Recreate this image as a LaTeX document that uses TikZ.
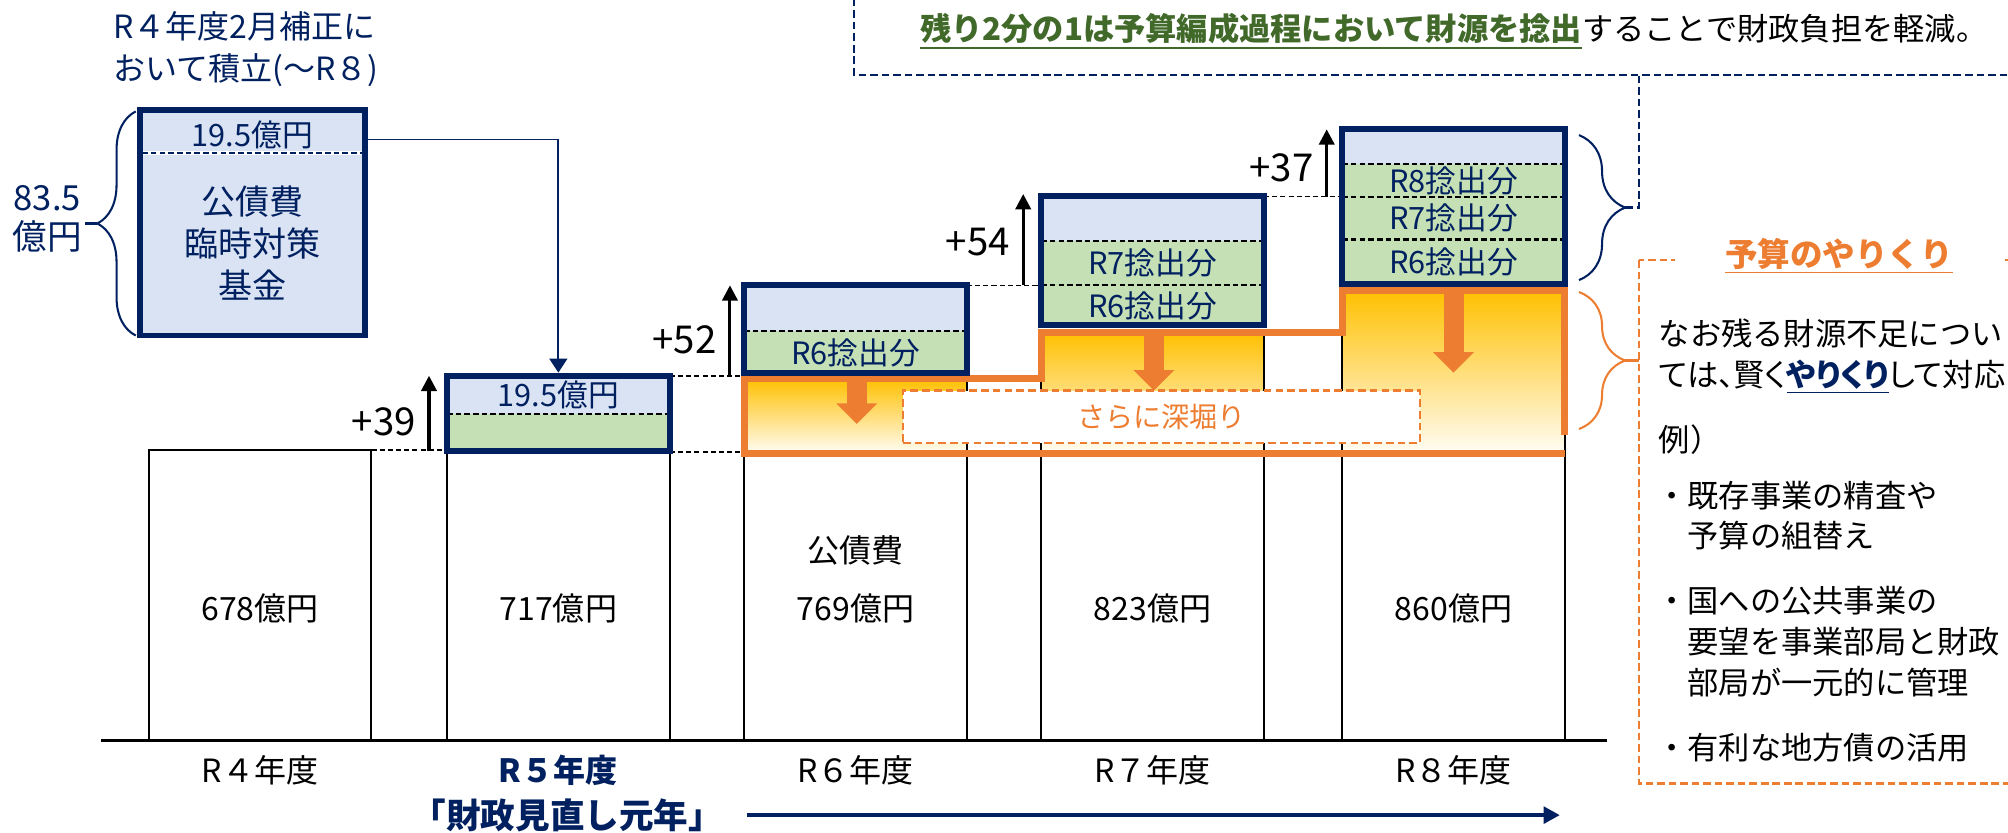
\documentclass[tikz,border=0pt]{standalone}
\usepackage{fontspec}
\setmainfont{Noto Sans CJK JP}
\usepackage{tikz}
\usetikzlibrary{arrows.meta, decorations.pathreplacing, positioning}
\usepackage{xcolor}
\definecolor{blu}{HTML}{002060}
\definecolor{azzurro}{HTML}{DAE3F3}
\definecolor{verde}{HTML}{C5E0B4}
\definecolor{verdescuro}{HTML}{41692A}
\definecolor{arancio}{HTML}{ED7D31}
\definecolor{giallo}{HTML}{FFC000}

\begin{document}
\begin{tikzpicture}[x = 0.5pt, y = -0.5pt,
    every node/.style = {inner sep = 1pt},
    barra/.style = {draw = black, line width = 0.75pt},
    scatola/.style = {draw = blu, line width = 2.3pt},
    riga/.style = {line width = 0.8pt, dash pattern = on 2.2pt off 1.2pt},
    guida/.style = {line width = 0.6pt, dash pattern = on 2pt off 1.2pt},
    salto/.style = {-{Triangle[width = 6pt, length = 6pt]}, line width = 1.2pt},
    giu/.style = {arancio, line width = 7.8pt, -{Triangle[width = 15.5pt, length = 8pt]}},
    piu/.style = {font = \fontsize{15}{17}\selectfont},
    cifra/.style = {font = \fontsize{12.5}{15}\selectfont},
    voce/.style = {text = blu, font = \fontsize{12}{15}\selectfont},
    testo/.style = {font = \fontsize{12.2}{15.7}\selectfont, anchor = west, align = left}]
    \useasboundingbox (0,0) rectangle (1568,649.7);
    % Parametri
    \pgfmathsetmacro{\asse}{578}
    \pgfmathsetmacro{\larg}{174}
    \pgfmathsetmacro{\xa}{116}
    \pgfmathsetmacro{\xb}{349}
    \pgfmathsetmacro{\xc}{581}
    \pgfmathsetmacro{\xd}{813}
    \pgfmathsetmacro{\xe}{1048}
    \pgfmathsetmacro{\fondo}{353.8}

    % Sfumature
    \shade[top color = giallo, bottom color = giallo!4] (\xc,295.7) rectangle ({\xc+\larg},\fondo);
    \shade[top color = giallo, bottom color = giallo!4] (\xd,259.3) rectangle ({\xd+\larg},\fondo);
    \shade[top color = giallo, bottom color = giallo!4] (\xe,227) rectangle ({\xe+\larg},\fondo);

    % Barre
    \draw[barra] (\xa,351.5) rectangle ({\xa+\larg},\asse);
    \draw[barra] (\xb,352) rectangle ({\xb+\larg},\asse);
    \draw[barra] (\xc,295.7) rectangle ({\xc+\larg},\asse);
    \draw[barra] (\xd,259.3) rectangle ({\xd+\larg},\asse);
    \draw[barra] (\xe,227) rectangle ({\xe+\larg},\asse);
    \node[cifra] (v678) at ({\xa+\larg/2},475) {678億円};
    \node[cifra] (v717) at ({\xb+\larg/2},475) {717億円};
    \node[cifra] (kosai) at ({\xc+\larg/2},430) {公債費};
    \node[cifra] (v769) at ({\xc+\larg/2},475) {769億円};
    \node[cifra] (v823) at ({\xd+\larg/2},475) {823億円};
    \node[cifra] (v860) at ({\xe+\larg/2},475) {860億円};

    % Linee guida
    \coordinate (q4) at ({\xa+\larg},351.5);
    \coordinate (q5) at (\xb,351.5);
    \coordinate (q5b) at ({\xb+\larg},353);
    \coordinate (q6b) at (\xc,353);
    \coordinate (q5t) at ({\xb+\larg},293.4);
    \coordinate (q6t) at (\xc,293.4);
    \coordinate (q6r) at ({\xc+\larg},222.8);
    \coordinate (q7l) at (\xd,222.8);
    \coordinate (q7r) at ({\xd+\larg},153.6);
    \coordinate (q8l) at (\xe,153.6);
    \draw[guida] (q4) -- (q5);
    \draw[guida] (q5b) -- (q6b);
    \draw[guida] (q5t) -- (q6t);
    \draw[guida] (q6r) -- (q7l);
    \draw[guida] (q7r) -- (q8l);

    % Contorno arancione
    \draw[arancio, line width = 2.7pt] ({\xe+\larg},340) -- ({\xe+\larg},227) -- (\xe,227) -- (\xe,259.3)
        -- (\xd,259.3) -- (\xd,295.7) -- (\xc,295.7) -- (\xc,\fondo) -- ({\xe+\larg},\fondo);
    \draw[giu] (669,297) -- (669,331);
    \draw[giu] (901,261) -- (901,305);
    \draw[giu] (1135,229) -- (1135,291);
    \node[draw = arancio, line width = 1pt, dash pattern = on 3pt off 1.6pt, fill = white,
        minimum width = 202pt, minimum height = 20.5pt, text = arancio,
        font = \fontsize{11}{14}\selectfont] (scavo) at (907,325.5) {さらに深堀り};

    % Scatole
    \fill[azzurro] (\xb,293.4) rectangle ({\xb+\larg},323);
    \fill[verde] (\xb,323) rectangle ({\xb+\larg},352);
    \draw[riga] (\xb,323) -- ({\xb+\larg},323);
    \draw[scatola] (\xb,293.4) rectangle ({\xb+\larg},352);
    \node[voce] (r5a) at ({\xb+\larg/2},308.5) {19.5億円};

    \fill[azzurro] (\xc,222.8) rectangle ({\xc+\larg},258.7);
    \fill[verde] (\xc,258.7) rectangle ({\xc+\larg},291);
    \draw[riga] (\xc,258.7) -- ({\xc+\larg},258.7);
    \draw[scatola] (\xc,222.8) rectangle ({\xc+\larg},291);
    \node[voce] (r6a) at ({\xc+\larg/2},275.5) {R6捻出分};

    \fill[azzurro] (\xd,153) rectangle ({\xd+\larg},188);
    \fill[verde] (\xd,188) rectangle ({\xd+\larg},254);
    \draw[riga] (\xd,188) -- ({\xd+\larg},188);
    \draw[riga] (\xd,222.6) -- ({\xd+\larg},222.6);
    \draw[scatola] (\xd,153) rectangle ({\xd+\larg},254);
    \node[voce] (r7a) at ({\xd+\larg/2},205.5) {R7捻出分};
    \node[voce] (r7b) at ({\xd+\larg/2},238.5) {R6捻出分};

    \fill[azzurro] (\xe,101) rectangle ({\xe+\larg},128.3);
    \fill[verde] (\xe,128.3) rectangle ({\xe+\larg},221.5);
    \draw[riga] (\xe,128.3) -- ({\xe+\larg},128.3);
    \draw[riga] (\xe,153.6) -- ({\xe+\larg},153.6);
    \draw[riga] (\xe,187) -- ({\xe+\larg},187);
    \draw[scatola] (\xe,101) rectangle ({\xe+\larg},221.5);
    \node[voce] (r8a) at ({\xe+\larg/2},141.5) {R8捻出分};
    \node[voce] (r8b) at ({\xe+\larg/2},170.5) {R7捻出分};
    \node[voce] (r8c) at ({\xe+\larg/2},204.5) {R6捻出分};

    % Incrementi
    \coordinate (p39) at (335,352);
    \coordinate (t39) at (335,293.4);
    \coordinate (m39) at (335,329);
    \coordinate (p52) at (570,293.4);
    \coordinate (t52) at (570,222.8);
    \coordinate (m52) at (570,265.6);
    \coordinate (p54) at (799,222.6);
    \coordinate (t54) at (799,151.5);
    \coordinate (m54) at (799,188.8);
    \coordinate (p37) at (1036,153.6);
    \coordinate (t37) at (1036,101);
    \coordinate (m37) at (1036,131);
    \draw[salto] (p39) -- (t39);
    \draw[salto] (p52) -- (t52);
    \draw[salto] (p54) -- (t54);
    \draw[salto] (p37) -- (t37);
    \node[piu, left = 4pt of m39] (n39) {+39};
    \node[piu, left = 4pt of m52] (n52) {+52};
    \node[piu, left = 4pt of m54] (n54) {+54};
    \node[piu, left = 4pt of m37] (n37) {+37};

    % Fondo
    \fill[azzurro] (109,86) rectangle (285,262);
    \draw[white, line width = 1.5pt] (111,119.5) -- (283,119.5);
    \draw[blu, riga] (111,119.5) -- (283,119.5);
    \draw[scatola] (109,86) rectangle (285,262);
    \node[voce] (f195) at (197,105) {19.5億円};
    \node[text = blu, align = center, font = \fontsize{13.3}{16.3}\selectfont] (fondo) at (197,190) {公債費\\臨時対策\\基金};
    \node[text = blu, align = center, font = \fontsize{13.5}{15.5}\selectfont] (tot) at (37,171) {83.5\\億円};
    \node[text = blu, anchor = west, align = left, font = \fontsize{12.5}{16.5}\selectfont] (titolo) at (86,38.5) {R４年度2月補正に\\おいて積立(〜R８)};
    \draw[blu, line width = 0.8pt, decorate, decoration = {brace, amplitude = 15pt}] (106,262) -- (106,87);
    \draw[blu, line width = 0.8pt] (76,174.5) -- (66,174.5);
    \coordinate (da) at (287,109);
    \coordinate (gomito) at (436,109);
    \coordinate (arrivo) at (436,291);
    \draw[blu, line width = 0.7pt, -{Triangle[width = 7pt, length = 5.5pt]}] (da) -- (gomito) -- (arrivo);

    % Asse e anni
    \draw[line width = 1.3pt] (79,\asse) -- (1255,\asse);
    \node[cifra] (a4) at ({\xa+\larg/2},601.5) {R４年度};
    \node[cifra, text = blu, font = \fontsize{12.5}{15}\selectfont\bfseries] (a5) at ({\xb+\larg/2},601.5) {R５年度};
    \node[cifra] (a6) at ({\xc+\larg/2},601.5) {R６年度};
    \node[cifra] (a7) at ({\xd+\larg/2},601.5) {R７年度};
    \node[cifra] (a8) at ({\xe+\larg/2},601.5) {R８年度};
    \node[text = blu, font = \fontsize{13.5}{16}\selectfont\bfseries] (motto) at (443,636.5) {「財政見直し元年」};
    \coordinate (fine) at (1218,636.5);
    \draw[blu, line width = 1.4pt, -{Triangle[width = 6.5pt, length = 6.3pt]}] (583,636.5) -- (fine);

    % Riquadro in alto
    \draw[blu, line width = 1pt, dash pattern = on 3pt off 1.5pt] (667,-10) rectangle (1620,58.6);
    \node[anchor = west, font = \fontsize{12.2}{15}\selectfont] (nota) at (716,24.7)
        {\textcolor{verdescuro}{\underline{\textbf{残り2分の1は予算編成過程において財源を捻出}}}することで財政負担を軽減。};
    \draw[blu, line width = 0.8pt, decorate, decoration = {brace, amplitude = 18pt}] (1233,105.5) -- (1233,218.7);
    \coordinate (punta) at (1269,162);
    \coordinate (svolta) at (1280,162);
    \coordinate (cima) at (1280,58.6);
    \draw[blu, line width = 1pt, dash pattern = on 3pt off 1.5pt] (punta) -- (svolta) -- (cima);

    % Riquadro della yarikuri
    \draw[arancio, line width = 1pt, dash pattern = on 3pt off 1.5pt] (1280,203) rectangle (1620,612);
    \draw[arancio, line width = 0.8pt, decorate, decoration = {brace, amplitude = 18pt}] (1233,228) -- (1233,335);
    \draw[arancio, line width = 0.8pt] (1269,281.5) -- (1280,281.5);
    \node[fill = white, inner xsep = 19.5pt, inner ysep = 1pt, text = arancio,
        font = \fontsize{12.7}{15}\selectfont\bfseries] (yarikuri) at (1436,200) {\underline{予算のやりくり}};
    \node[testo] (nota1) at (1293,278.5) {なお残る財源不足につい\\{\addfontfeatures{RawFeature=+palt}ては、賢く\textcolor{blu}{\underline{\textbf{やりくり}}}して対応}};
    \node[testo] (es) at (1293,343.6) {例）};
    \node[testo] (v1) at (1291,402.4) {・既存事業の精査や\\\hphantom{・}予算の組替え};
    \node[testo, font = \fontsize{12.2}{16}\selectfont] (v2) at (1291,500.8) {・国への公共事業の\\\hphantom{・}要望を事業部局と財政\\\hphantom{・}部局が一元的に管理};
    \node[testo] (v3) at (1291,584) {・有利な地方債の活用};
\end{tikzpicture}
\end{document}
